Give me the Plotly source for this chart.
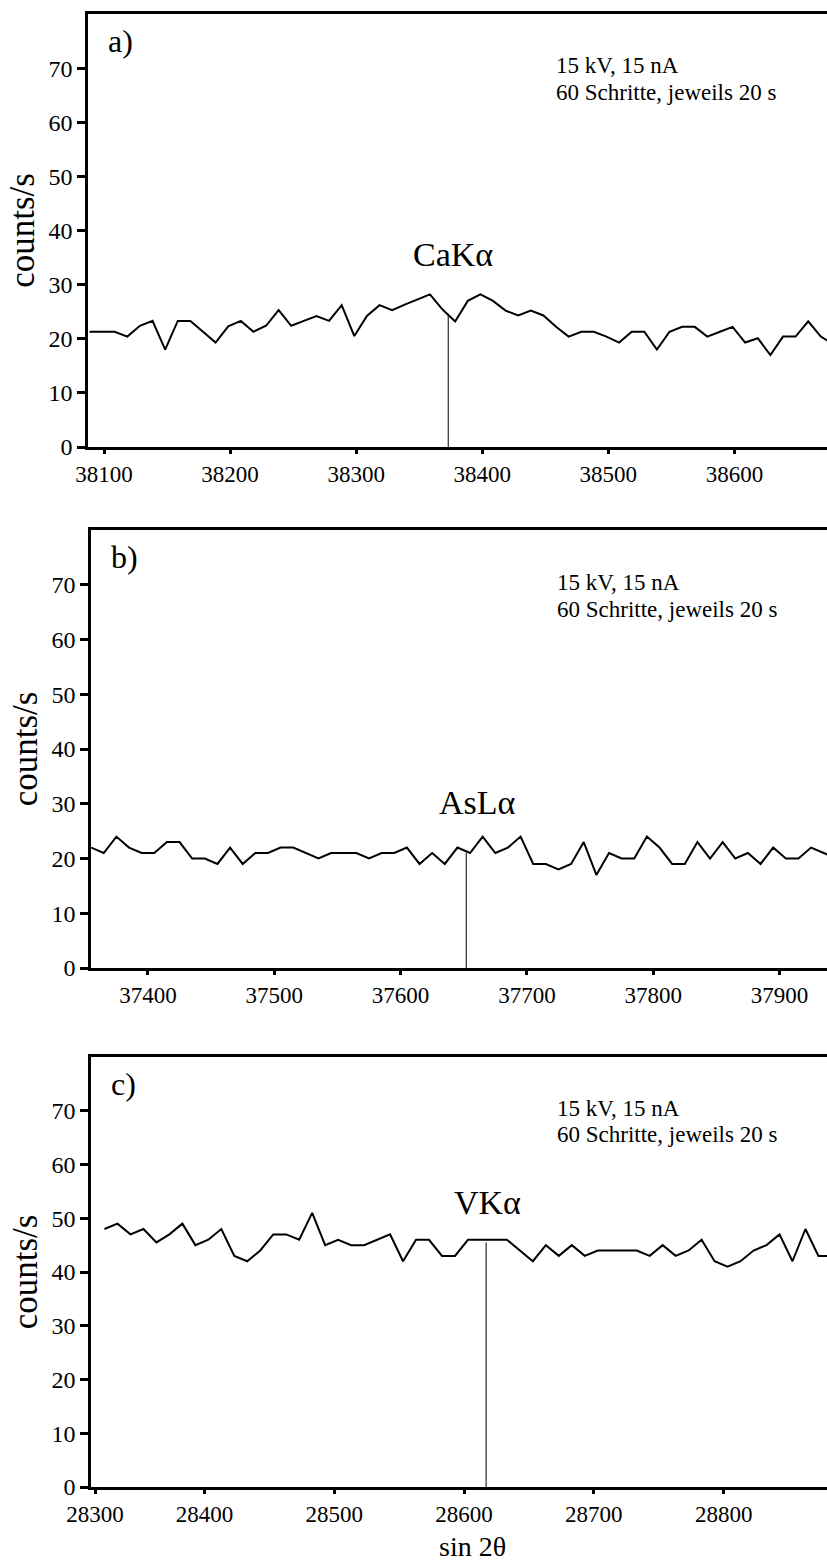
import plotly.graph_objects as go

# ---------------- data ----------------
a_start = 38088.5
a_counts = [21.3, 21.3, 21.3, 20.4, 22.4, 23.3, 18.0, 23.3, 23.3, 21.3,
            19.3, 22.3, 23.3, 21.3, 22.4, 25.3, 22.4, 23.3, 24.2, 23.3,
            26.2, 20.5, 24.2, 26.2, 25.3, 26.3, 27.2, 28.2, 25.4, 23.2,
            27.0, 28.2, 27.0, 25.2, 24.3, 25.2, 24.3, 22.2, 20.4, 21.3,
            21.3, 20.4, 19.3, 21.3, 21.3, 18.0, 21.3, 22.2, 22.2, 20.4,
            21.3, 22.2, 19.3, 20.1, 17.0, 20.4, 20.4, 23.2, 20.4, 19.0]

b_start = 37355.0
b_counts = [22, 21, 24, 22, 21, 21, 23, 23, 20, 20,
            19, 22, 19, 21, 21, 22, 22, 21, 20, 21,
            21, 21, 20, 21, 21, 22, 19, 21, 19, 22,
            21, 24, 21, 22, 24, 19, 19, 18, 19, 23,
            17, 21, 20, 20, 24, 22, 19, 19, 23, 20,
            23, 20, 21, 19, 22, 20, 20, 22, 21, 20]

c_start = 28323.0
c_counts = [48, 49, 47, 48, 45.5, 47, 49, 45, 46, 48,
            43, 42, 44, 47, 47, 46, 51, 45, 46, 45,
            45, 46, 47, 42, 46, 46, 43, 43, 46, 46,
            46, 46, 44, 42, 45, 43, 45, 43, 44, 44,
            44, 44, 43, 45, 43, 44, 46, 42, 41, 42,
            44, 45, 47, 42, 48, 43, 43, 41, 44, 44]

step = 10.0
peak_names = ["CaKα", "AsLα", "VKα"]
peak_pos = [38373, 37652, 28617]
peak_top = [24.5, 21.0, 45.5]
peak_label_x = [38377, 37661, 28618]
peak_label_y = [35.5, 30.3, 53]

a_ticks = [38100, 38200, 38300, 38400, 38500, 38600]
b_ticks = [37400, 37500, 37600, 37700, 37800, 37900]
c_ticks = [28315.7, 28400, 28500, 28600, 28700, 28800]
c_ticktext = ["28300", "28400", "28500", "28600", "28700", "28800"]
y_ticks = [0, 10, 20, 30, 40, 50, 60, 70]

panel_labels = ["a)", "b)", "c)"]
cond_lines = ["15 kV, 15 nA", "60 Schritte, jeweils 20 s"]
x_title = "sin 2θ"
y_title = "counts/s"

x_ranges = [[38087.3, 38673.4], [37354.9, 37937.6], [28312.6, 28879.6]]

# ---------------- layout helpers ----------------
W, H = 827, 1563
ML, MR, MT, MB = 88, 0, 14, 76
PH = H - MT - MB
PW = W - ML - MR

def ydom(top_px, bot_px):
    return [(H - MB - bot_px) / PH, (H - MB - top_px) / PH]

def xdom(left_px):
    return [(left_px - ML) / PW, 1.0]

def ypaper(px):
    return (H - MB - px) / PH

def xpaper(px):
    return (px - ML) / PW

panels = [
    dict(top=14, bot=447, left=88),
    dict(top=530, bot=968, left=91),
    dict(top=1057, bot=1487, left=91),
]

FONT = "Liberation Serif"
fig = go.Figure()

series = [(a_start, a_counts), (b_start, b_counts), (c_start, c_counts)]
for k, (start, counts) in enumerate(series):
    xs = [start + step * i for i in range(len(counts))]
    sfx = "" if k == 0 else str(k + 1)
    fig.add_trace(go.Scatter(x=xs, y=counts, mode="lines",
                             line=dict(color="black", width=2),
                             xaxis="x" + sfx, yaxis="y" + sfx,
                             showlegend=False))
    fig.add_trace(go.Scatter(x=[peak_pos[k], peak_pos[k]], y=[0, peak_top[k]],
                             mode="lines", line=dict(color="black", width=1),
                             xaxis="x" + sfx, yaxis="y" + sfx, showlegend=False))

tick_sets = [(a_ticks, [str(t) for t in a_ticks]),
             (b_ticks, [str(t) for t in b_ticks]),
             (c_ticks, c_ticktext)]

for k, p in enumerate(panels):
    sfx = "" if k == 0 else str(k + 1)
    tv, tt = tick_sets[k]
    xa = dict(domain=xdom(p["left"]), range=x_ranges[k], anchor="y" + sfx,
              showgrid=False, zeroline=False, showline=True, linecolor="black",
              linewidth=3, mirror=True, ticks="outside", ticklen=4, tickwidth=2.5,
              tickcolor="black", tickvals=tv, ticktext=tt,
              tickfont=dict(family=FONT, size=23, color="black"))
    ya = dict(domain=ydom(p["top"], p["bot"]), range=[0, 80], anchor="x" + sfx,
              showgrid=False, zeroline=False, showline=True, linecolor="black",
              linewidth=2.5, ticks="outside", ticklen=8, tickwidth=2.5,
              tickcolor="black", tickvals=y_ticks,
              tickfont=dict(family=FONT, size=24, color="black"),
              title=dict(text=y_title, font=dict(family=FONT, size=35, color="black"),
                         standoff=4))
    fig.update_layout(**{"xaxis" + sfx: xa, "yaxis" + sfx: ya})

    xr = "x" + sfx + " domain"
    yr = "y" + sfx
    fig.add_annotation(x=0.025, y=75, xref=xr, yref=yr, text=panel_labels[k],
                       showarrow=False, xanchor="left", yanchor="middle",
                       font=dict(family=FONT, size=32, color="black"))
    fig.add_annotation(x=0.63, y=70.5, xref=xr, yref=yr, text=cond_lines[0],
                       showarrow=False, xanchor="left", yanchor="middle",
                       font=dict(family=FONT, size=23, color="black"))
    fig.add_annotation(x=0.63, y=65.5, xref=xr, yref=yr, text=cond_lines[1],
                       showarrow=False, xanchor="left", yanchor="middle",
                       font=dict(family=FONT, size=23, color="black"))
    fig.add_annotation(x=peak_label_x[k], y=peak_label_y[k], xref="x" + sfx, yref=yr,
                       text=peak_names[k], showarrow=False, xanchor="center",
                       yanchor="middle", font=dict(family=FONT, size=34, color="black"))

# x-axis title below the bottom panel
fig.add_annotation(x=xpaper(472), y=ypaper(1546), xref="paper", yref="paper",
                   text=x_title, showarrow=False, xanchor="center", yanchor="middle",
                   borderpad=0,
                   font=dict(family=FONT, size=28, color="black"))

fig.update_layout(width=W, height=H, margin=dict(l=ML, r=MR, t=MT, b=MB),
                  paper_bgcolor="white", plot_bgcolor="white",
                  font=dict(family=FONT, color="black"))

fig.write_html("out.html")
